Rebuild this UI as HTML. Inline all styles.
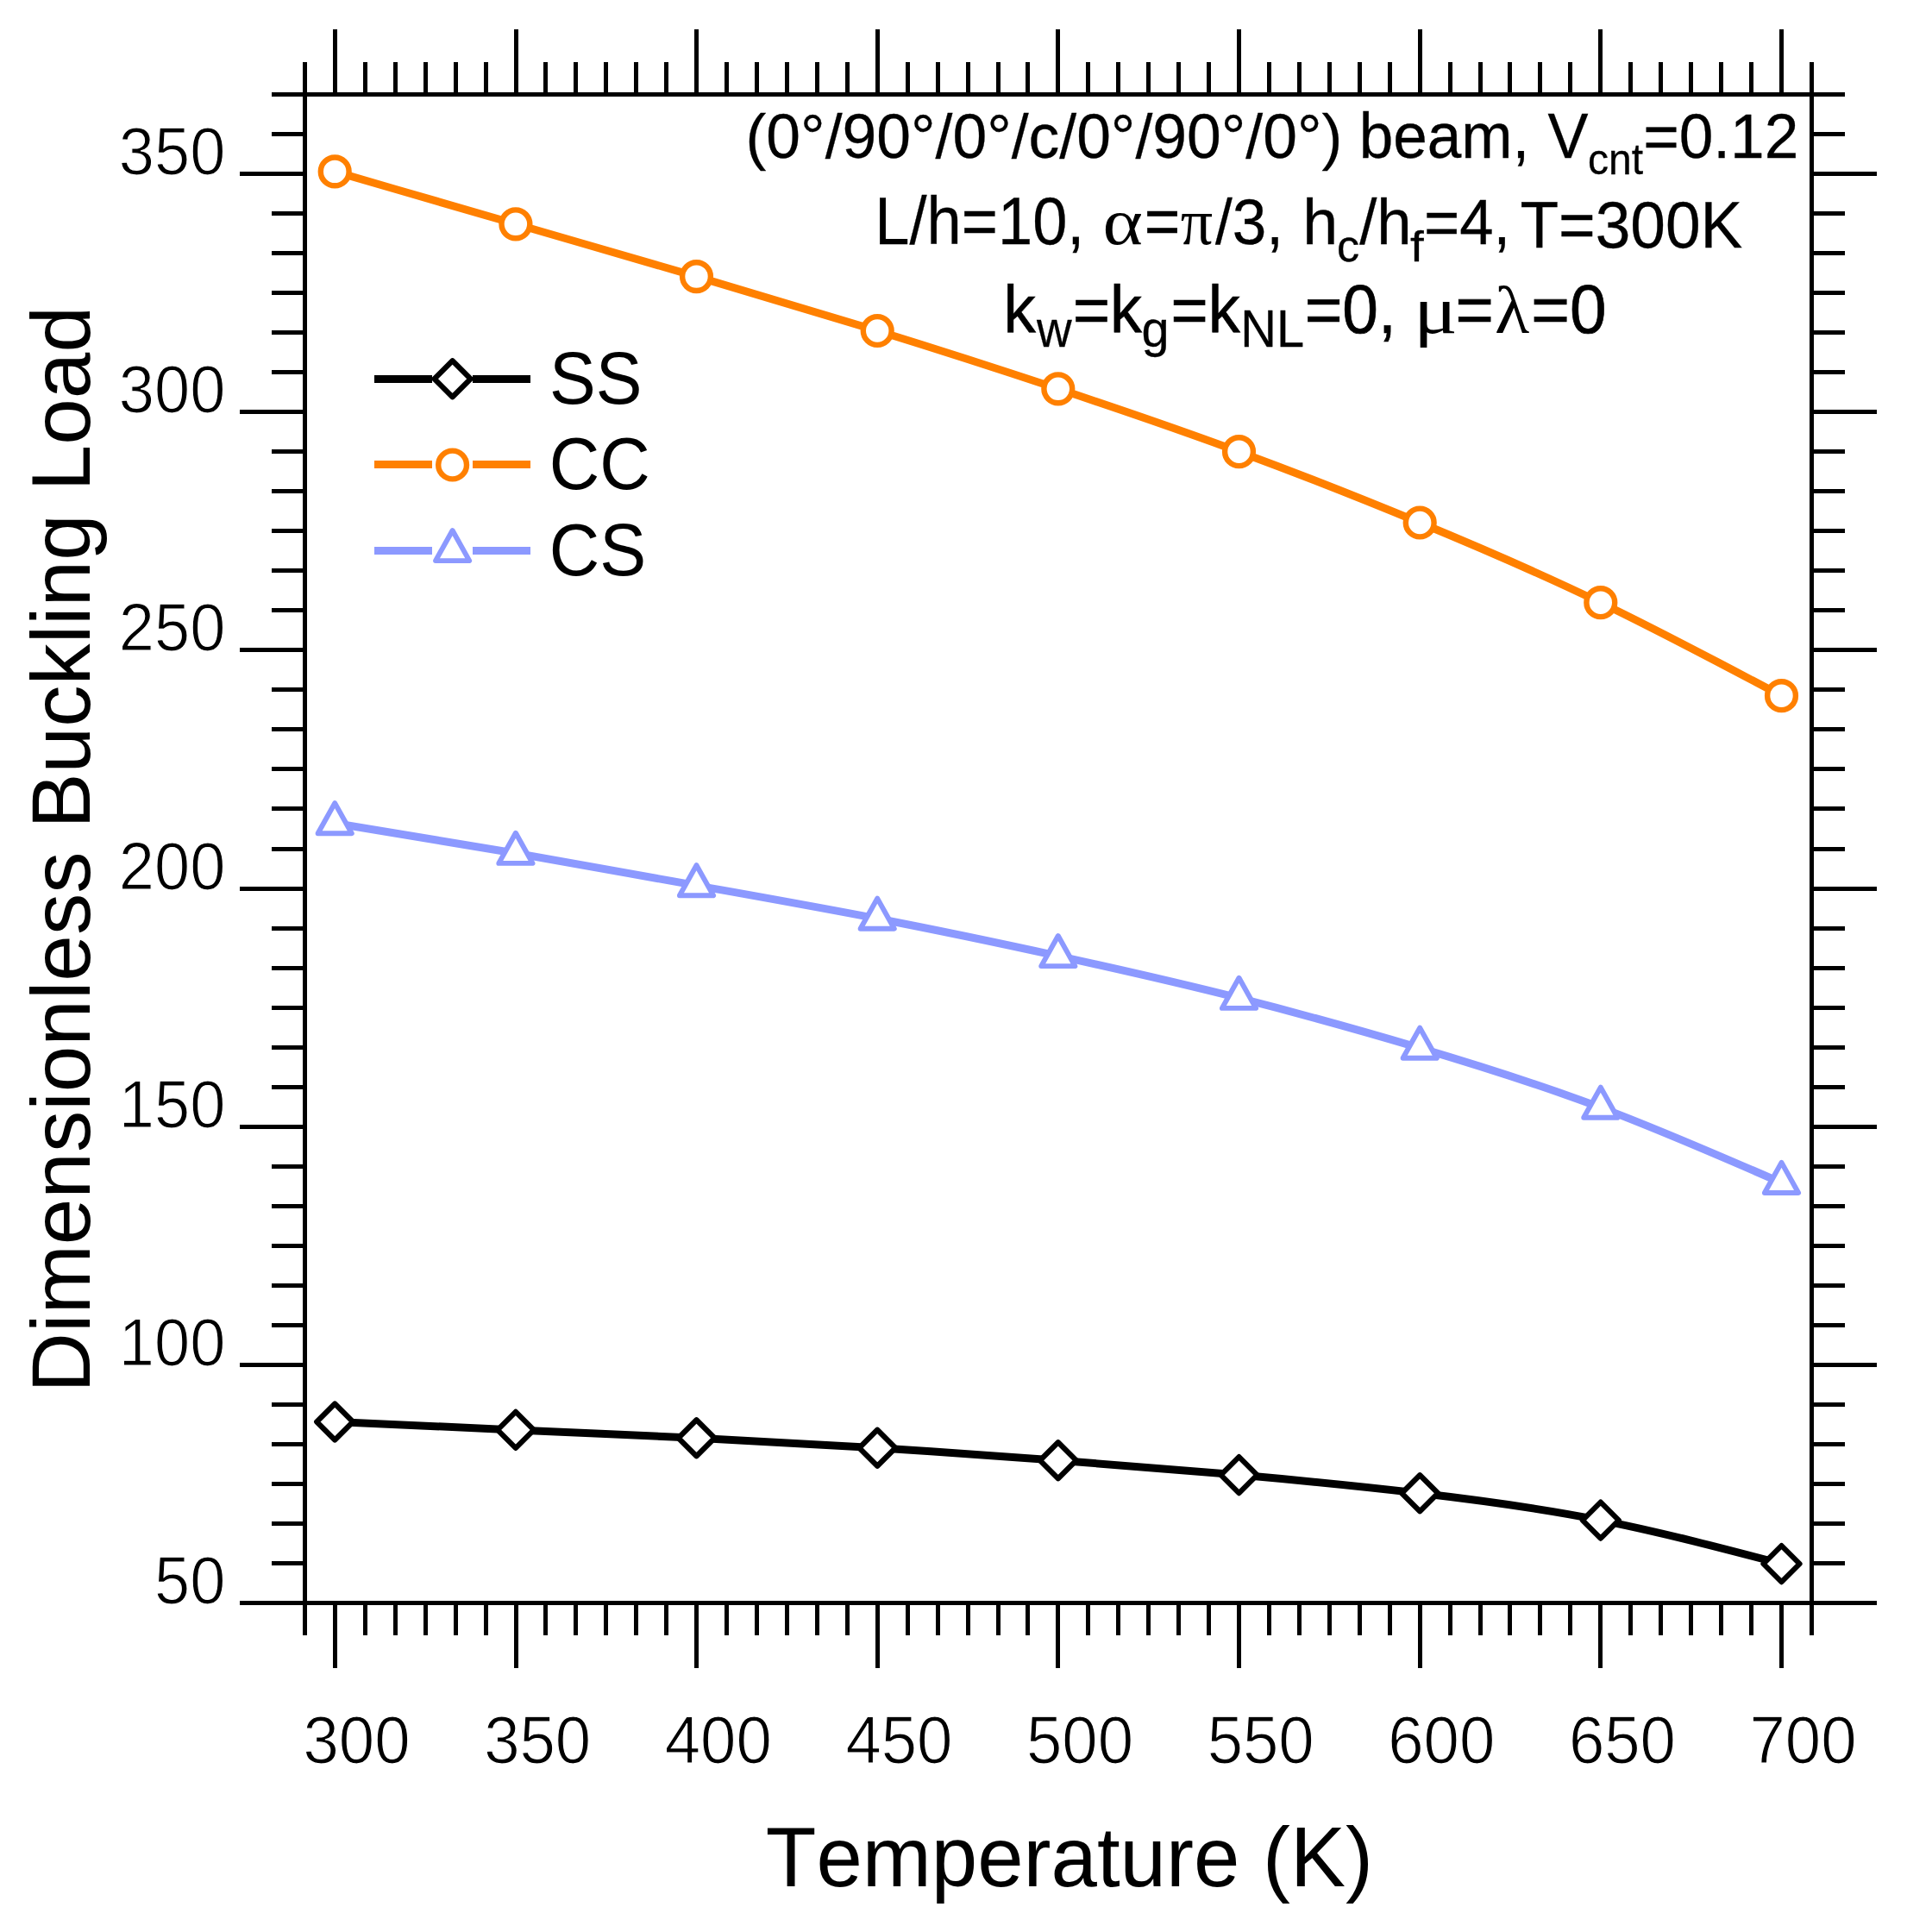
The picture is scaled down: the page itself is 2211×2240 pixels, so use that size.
<!DOCTYPE html>
<html lang="en"><head><meta charset="utf-8"><title>Dimensionless Buckling Load vs Temperature</title>
<style>html,body{margin:0;padding:0;background:#fff}body{width:2211px;height:2240px;overflow:hidden}svg{display:block}text{font-family:"Liberation Sans",sans-serif;fill:#000;white-space:pre;font-kerning:none}.sym{font-family:"Liberation Serif","DejaVu Serif",serif}.tk{stroke:#fff;stroke-width:1.2px}</style></head><body>
<svg width="2211" height="2240" viewBox="0 0 2211 2240">
<rect width="2211" height="2240" fill="#fff"/>
<g shape-rendering="crispEdges">
<rect x="315" y="107" width="1824" height="5" fill="#000"/>
<rect x="278" y="1856" width="1898" height="5" fill="#000"/>
<rect x="351" y="72" width="5" height="1824" fill="#000"/>
<rect x="2098" y="72" width="5" height="1824" fill="#000"/>
<rect x="386" y="34" width="5" height="75" fill="#000"/>
<rect x="386" y="1858" width="5" height="76" fill="#000"/>
<rect x="421" y="72" width="5" height="37" fill="#000"/>
<rect x="421" y="1858" width="5" height="38" fill="#000"/>
<rect x="456" y="72" width="5" height="37" fill="#000"/>
<rect x="456" y="1858" width="5" height="38" fill="#000"/>
<rect x="491" y="72" width="5" height="37" fill="#000"/>
<rect x="491" y="1858" width="5" height="38" fill="#000"/>
<rect x="526" y="72" width="5" height="37" fill="#000"/>
<rect x="526" y="1858" width="5" height="38" fill="#000"/>
<rect x="561" y="72" width="5" height="37" fill="#000"/>
<rect x="561" y="1858" width="5" height="38" fill="#000"/>
<rect x="596" y="34" width="5" height="75" fill="#000"/>
<rect x="596" y="1858" width="5" height="76" fill="#000"/>
<rect x="630" y="72" width="5" height="37" fill="#000"/>
<rect x="630" y="1858" width="5" height="38" fill="#000"/>
<rect x="665" y="72" width="5" height="37" fill="#000"/>
<rect x="665" y="1858" width="5" height="38" fill="#000"/>
<rect x="700" y="72" width="5" height="37" fill="#000"/>
<rect x="700" y="1858" width="5" height="38" fill="#000"/>
<rect x="735" y="72" width="5" height="37" fill="#000"/>
<rect x="735" y="1858" width="5" height="38" fill="#000"/>
<rect x="770" y="72" width="5" height="37" fill="#000"/>
<rect x="770" y="1858" width="5" height="38" fill="#000"/>
<rect x="805" y="34" width="5" height="75" fill="#000"/>
<rect x="805" y="1858" width="5" height="76" fill="#000"/>
<rect x="840" y="72" width="5" height="37" fill="#000"/>
<rect x="840" y="1858" width="5" height="38" fill="#000"/>
<rect x="875" y="72" width="5" height="37" fill="#000"/>
<rect x="875" y="1858" width="5" height="38" fill="#000"/>
<rect x="910" y="72" width="5" height="37" fill="#000"/>
<rect x="910" y="1858" width="5" height="38" fill="#000"/>
<rect x="945" y="72" width="5" height="37" fill="#000"/>
<rect x="945" y="1858" width="5" height="38" fill="#000"/>
<rect x="980" y="72" width="5" height="37" fill="#000"/>
<rect x="980" y="1858" width="5" height="38" fill="#000"/>
<rect x="1015" y="34" width="5" height="75" fill="#000"/>
<rect x="1015" y="1858" width="5" height="76" fill="#000"/>
<rect x="1050" y="72" width="5" height="37" fill="#000"/>
<rect x="1050" y="1858" width="5" height="38" fill="#000"/>
<rect x="1085" y="72" width="5" height="37" fill="#000"/>
<rect x="1085" y="1858" width="5" height="38" fill="#000"/>
<rect x="1120" y="72" width="5" height="37" fill="#000"/>
<rect x="1120" y="1858" width="5" height="38" fill="#000"/>
<rect x="1155" y="72" width="5" height="37" fill="#000"/>
<rect x="1155" y="1858" width="5" height="38" fill="#000"/>
<rect x="1189" y="72" width="5" height="37" fill="#000"/>
<rect x="1189" y="1858" width="5" height="38" fill="#000"/>
<rect x="1224" y="34" width="5" height="75" fill="#000"/>
<rect x="1224" y="1858" width="5" height="76" fill="#000"/>
<rect x="1259" y="72" width="5" height="37" fill="#000"/>
<rect x="1259" y="1858" width="5" height="38" fill="#000"/>
<rect x="1294" y="72" width="5" height="37" fill="#000"/>
<rect x="1294" y="1858" width="5" height="38" fill="#000"/>
<rect x="1329" y="72" width="5" height="37" fill="#000"/>
<rect x="1329" y="1858" width="5" height="38" fill="#000"/>
<rect x="1364" y="72" width="5" height="37" fill="#000"/>
<rect x="1364" y="1858" width="5" height="38" fill="#000"/>
<rect x="1399" y="72" width="5" height="37" fill="#000"/>
<rect x="1399" y="1858" width="5" height="38" fill="#000"/>
<rect x="1434" y="34" width="5" height="75" fill="#000"/>
<rect x="1434" y="1858" width="5" height="76" fill="#000"/>
<rect x="1469" y="72" width="5" height="37" fill="#000"/>
<rect x="1469" y="1858" width="5" height="38" fill="#000"/>
<rect x="1504" y="72" width="5" height="37" fill="#000"/>
<rect x="1504" y="1858" width="5" height="38" fill="#000"/>
<rect x="1539" y="72" width="5" height="37" fill="#000"/>
<rect x="1539" y="1858" width="5" height="38" fill="#000"/>
<rect x="1574" y="72" width="5" height="37" fill="#000"/>
<rect x="1574" y="1858" width="5" height="38" fill="#000"/>
<rect x="1609" y="72" width="5" height="37" fill="#000"/>
<rect x="1609" y="1858" width="5" height="38" fill="#000"/>
<rect x="1644" y="34" width="5" height="75" fill="#000"/>
<rect x="1644" y="1858" width="5" height="76" fill="#000"/>
<rect x="1679" y="72" width="5" height="37" fill="#000"/>
<rect x="1679" y="1858" width="5" height="38" fill="#000"/>
<rect x="1714" y="72" width="5" height="37" fill="#000"/>
<rect x="1714" y="1858" width="5" height="38" fill="#000"/>
<rect x="1748" y="72" width="5" height="37" fill="#000"/>
<rect x="1748" y="1858" width="5" height="38" fill="#000"/>
<rect x="1783" y="72" width="5" height="37" fill="#000"/>
<rect x="1783" y="1858" width="5" height="38" fill="#000"/>
<rect x="1818" y="72" width="5" height="37" fill="#000"/>
<rect x="1818" y="1858" width="5" height="38" fill="#000"/>
<rect x="1853" y="34" width="5" height="75" fill="#000"/>
<rect x="1853" y="1858" width="5" height="76" fill="#000"/>
<rect x="1888" y="72" width="5" height="37" fill="#000"/>
<rect x="1888" y="1858" width="5" height="38" fill="#000"/>
<rect x="1923" y="72" width="5" height="37" fill="#000"/>
<rect x="1923" y="1858" width="5" height="38" fill="#000"/>
<rect x="1958" y="72" width="5" height="37" fill="#000"/>
<rect x="1958" y="1858" width="5" height="38" fill="#000"/>
<rect x="1993" y="72" width="5" height="37" fill="#000"/>
<rect x="1993" y="1858" width="5" height="38" fill="#000"/>
<rect x="2028" y="72" width="5" height="37" fill="#000"/>
<rect x="2028" y="1858" width="5" height="38" fill="#000"/>
<rect x="2063" y="34" width="5" height="75" fill="#000"/>
<rect x="2063" y="1858" width="5" height="76" fill="#000"/>
<rect x="315" y="1810" width="38" height="5" fill="#000"/>
<rect x="2101" y="1810" width="38" height="5" fill="#000"/>
<rect x="315" y="1764" width="38" height="5" fill="#000"/>
<rect x="2101" y="1764" width="38" height="5" fill="#000"/>
<rect x="315" y="1718" width="38" height="5" fill="#000"/>
<rect x="2101" y="1718" width="38" height="5" fill="#000"/>
<rect x="315" y="1672" width="38" height="5" fill="#000"/>
<rect x="2101" y="1672" width="38" height="5" fill="#000"/>
<rect x="315" y="1626" width="38" height="5" fill="#000"/>
<rect x="2101" y="1626" width="38" height="5" fill="#000"/>
<rect x="278" y="1580" width="75" height="5" fill="#000"/>
<rect x="2101" y="1580" width="75" height="5" fill="#000"/>
<rect x="315" y="1534" width="38" height="5" fill="#000"/>
<rect x="2101" y="1534" width="38" height="5" fill="#000"/>
<rect x="315" y="1488" width="38" height="5" fill="#000"/>
<rect x="2101" y="1488" width="38" height="5" fill="#000"/>
<rect x="315" y="1442" width="38" height="5" fill="#000"/>
<rect x="2101" y="1442" width="38" height="5" fill="#000"/>
<rect x="315" y="1396" width="38" height="5" fill="#000"/>
<rect x="2101" y="1396" width="38" height="5" fill="#000"/>
<rect x="315" y="1350" width="38" height="5" fill="#000"/>
<rect x="2101" y="1350" width="38" height="5" fill="#000"/>
<rect x="278" y="1304" width="75" height="5" fill="#000"/>
<rect x="2101" y="1304" width="75" height="5" fill="#000"/>
<rect x="315" y="1258" width="38" height="5" fill="#000"/>
<rect x="2101" y="1258" width="38" height="5" fill="#000"/>
<rect x="315" y="1212" width="38" height="5" fill="#000"/>
<rect x="2101" y="1212" width="38" height="5" fill="#000"/>
<rect x="315" y="1166" width="38" height="5" fill="#000"/>
<rect x="2101" y="1166" width="38" height="5" fill="#000"/>
<rect x="315" y="1120" width="38" height="5" fill="#000"/>
<rect x="2101" y="1120" width="38" height="5" fill="#000"/>
<rect x="315" y="1074" width="38" height="5" fill="#000"/>
<rect x="2101" y="1074" width="38" height="5" fill="#000"/>
<rect x="278" y="1028" width="75" height="5" fill="#000"/>
<rect x="2101" y="1028" width="75" height="5" fill="#000"/>
<rect x="315" y="982" width="38" height="5" fill="#000"/>
<rect x="2101" y="982" width="38" height="5" fill="#000"/>
<rect x="315" y="935" width="38" height="5" fill="#000"/>
<rect x="2101" y="935" width="38" height="5" fill="#000"/>
<rect x="315" y="889" width="38" height="5" fill="#000"/>
<rect x="2101" y="889" width="38" height="5" fill="#000"/>
<rect x="315" y="843" width="38" height="5" fill="#000"/>
<rect x="2101" y="843" width="38" height="5" fill="#000"/>
<rect x="315" y="797" width="38" height="5" fill="#000"/>
<rect x="2101" y="797" width="38" height="5" fill="#000"/>
<rect x="278" y="751" width="75" height="5" fill="#000"/>
<rect x="2101" y="751" width="75" height="5" fill="#000"/>
<rect x="315" y="705" width="38" height="5" fill="#000"/>
<rect x="2101" y="705" width="38" height="5" fill="#000"/>
<rect x="315" y="659" width="38" height="5" fill="#000"/>
<rect x="2101" y="659" width="38" height="5" fill="#000"/>
<rect x="315" y="613" width="38" height="5" fill="#000"/>
<rect x="2101" y="613" width="38" height="5" fill="#000"/>
<rect x="315" y="567" width="38" height="5" fill="#000"/>
<rect x="2101" y="567" width="38" height="5" fill="#000"/>
<rect x="315" y="521" width="38" height="5" fill="#000"/>
<rect x="2101" y="521" width="38" height="5" fill="#000"/>
<rect x="278" y="475" width="75" height="5" fill="#000"/>
<rect x="2101" y="475" width="75" height="5" fill="#000"/>
<rect x="315" y="429" width="38" height="5" fill="#000"/>
<rect x="2101" y="429" width="38" height="5" fill="#000"/>
<rect x="315" y="383" width="38" height="5" fill="#000"/>
<rect x="2101" y="383" width="38" height="5" fill="#000"/>
<rect x="315" y="337" width="38" height="5" fill="#000"/>
<rect x="2101" y="337" width="38" height="5" fill="#000"/>
<rect x="315" y="291" width="38" height="5" fill="#000"/>
<rect x="2101" y="291" width="38" height="5" fill="#000"/>
<rect x="315" y="245" width="38" height="5" fill="#000"/>
<rect x="2101" y="245" width="38" height="5" fill="#000"/>
<rect x="278" y="199" width="75" height="5" fill="#000"/>
<rect x="2101" y="199" width="75" height="5" fill="#000"/>
<rect x="315" y="153" width="38" height="5" fill="#000"/>
<rect x="2101" y="153" width="38" height="5" fill="#000"/>
</g>
<path d="M388.2 1648.5C458.1 1651.7 528.0 1654.9 597.9 1657.9C667.8 1660.9 737.6 1663.9 807.5 1667.2C877.4 1670.5 947.3 1674.3 1017.2 1678.7C1087.1 1683.1 1157.0 1688.0 1226.8 1693.2C1296.7 1698.4 1366.6 1703.9 1436.5 1710.1C1506.4 1716.3 1576.3 1723.2 1646.2 1731.3C1716.1 1739.4 1786.0 1748.8 1855.8 1762.6C1925.7 1776.4 1995.6 1794.8 2065.5 1813.1" fill="none" stroke="#000" stroke-width="9"/>
<path d="M388.2 198.9C458.1 219.2 528.0 239.6 597.9 259.8C667.8 280.0 737.6 300.1 807.5 320.6C877.4 341.1 947.3 361.9 1017.2 383.5C1087.1 405.1 1157.0 427.6 1226.8 450.8C1296.7 474.0 1366.6 497.9 1436.5 523.7C1506.4 549.5 1576.3 577.1 1646.2 606.0C1716.1 634.9 1786.0 665.0 1855.8 698.7C1925.7 732.4 1995.6 769.5 2065.5 806.7" fill="none" stroke="#FF8000" stroke-width="9"/>
<path d="M388.2 954.5C458.1 965.8 528.0 977.1 597.9 989.2C667.8 1001.3 737.6 1014.0 807.5 1026.6C877.4 1039.2 947.3 1051.5 1017.2 1065.0C1087.1 1078.5 1157.0 1093.1 1226.8 1108.4C1296.7 1123.7 1366.6 1139.5 1436.5 1157.2C1506.4 1174.9 1576.3 1194.4 1646.2 1215.1C1716.1 1235.8 1786.0 1257.9 1855.8 1284.1C1925.7 1310.3 1995.6 1340.8 2065.5 1371.3" fill="none" stroke="#8C99FF" stroke-width="9"/>
<path d="M367.2 1648.5L388.2 1627.5L409.2 1648.5L388.2 1669.5Z" fill="#fff" stroke="#000" stroke-width="6.2" stroke-linejoin="round"/>
<path d="M576.9 1657.9L597.9 1636.9L618.9 1657.9L597.9 1678.9Z" fill="#fff" stroke="#000" stroke-width="6.2" stroke-linejoin="round"/>
<path d="M786.5 1667.2L807.5 1646.2L828.5 1667.2L807.5 1688.2Z" fill="#fff" stroke="#000" stroke-width="6.2" stroke-linejoin="round"/>
<path d="M996.2 1678.7L1017.2 1657.7L1038.2 1678.7L1017.2 1699.7Z" fill="#fff" stroke="#000" stroke-width="6.2" stroke-linejoin="round"/>
<path d="M1205.8 1693.2L1226.8 1672.2L1247.8 1693.2L1226.8 1714.2Z" fill="#fff" stroke="#000" stroke-width="6.2" stroke-linejoin="round"/>
<path d="M1415.5 1710.1L1436.5 1689.1L1457.5 1710.1L1436.5 1731.1Z" fill="#fff" stroke="#000" stroke-width="6.2" stroke-linejoin="round"/>
<path d="M1625.2 1731.3L1646.2 1710.3L1667.2 1731.3L1646.2 1752.3Z" fill="#fff" stroke="#000" stroke-width="6.2" stroke-linejoin="round"/>
<path d="M1834.8 1762.6L1855.8 1741.6L1876.8 1762.6L1855.8 1783.6Z" fill="#fff" stroke="#000" stroke-width="6.2" stroke-linejoin="round"/>
<path d="M2044.5 1813.1L2065.5 1792.1L2086.5 1813.1L2065.5 1834.1Z" fill="#fff" stroke="#000" stroke-width="6.2" stroke-linejoin="round"/>
<circle cx="388.2" cy="198.9" r="16.4" fill="#fff" stroke="#FF8000" stroke-width="6.4"/>
<circle cx="597.9" cy="259.8" r="16.4" fill="#fff" stroke="#FF8000" stroke-width="6.4"/>
<circle cx="807.5" cy="320.6" r="16.4" fill="#fff" stroke="#FF8000" stroke-width="6.4"/>
<circle cx="1017.2" cy="383.5" r="16.4" fill="#fff" stroke="#FF8000" stroke-width="6.4"/>
<circle cx="1226.8" cy="450.8" r="16.4" fill="#fff" stroke="#FF8000" stroke-width="6.4"/>
<circle cx="1436.5" cy="523.7" r="16.4" fill="#fff" stroke="#FF8000" stroke-width="6.4"/>
<circle cx="1646.2" cy="606.0" r="16.4" fill="#fff" stroke="#FF8000" stroke-width="6.4"/>
<circle cx="1855.8" cy="698.7" r="16.4" fill="#fff" stroke="#FF8000" stroke-width="6.4"/>
<circle cx="2065.5" cy="806.7" r="16.4" fill="#fff" stroke="#FF8000" stroke-width="6.4"/>
<path d="M388.2 931.1L407.8 966.2L368.6 966.2Z" fill="#fff" stroke="#8C99FF" stroke-width="5.9" stroke-linejoin="round"/>
<path d="M597.9 965.8L617.5 1000.9L578.3 1000.9Z" fill="#fff" stroke="#8C99FF" stroke-width="5.9" stroke-linejoin="round"/>
<path d="M807.5 1003.2L827.1 1038.3L787.9 1038.3Z" fill="#fff" stroke="#8C99FF" stroke-width="5.9" stroke-linejoin="round"/>
<path d="M1017.2 1041.6L1036.8 1076.7L997.6 1076.7Z" fill="#fff" stroke="#8C99FF" stroke-width="5.9" stroke-linejoin="round"/>
<path d="M1226.8 1085.0L1246.4 1120.1L1207.2 1120.1Z" fill="#fff" stroke="#8C99FF" stroke-width="5.9" stroke-linejoin="round"/>
<path d="M1436.5 1133.8L1456.1 1168.9L1416.9 1168.9Z" fill="#fff" stroke="#8C99FF" stroke-width="5.9" stroke-linejoin="round"/>
<path d="M1646.2 1191.7L1665.8 1226.8L1626.6 1226.8Z" fill="#fff" stroke="#8C99FF" stroke-width="5.9" stroke-linejoin="round"/>
<path d="M1855.8 1260.7L1875.4 1295.8L1836.2 1295.8Z" fill="#fff" stroke="#8C99FF" stroke-width="5.9" stroke-linejoin="round"/>
<path d="M2065.5 1347.9L2085.1 1383.0L2045.9 1383.0Z" fill="#fff" stroke="#8C99FF" stroke-width="5.9" stroke-linejoin="round"/>
<g shape-rendering="crispEdges">
<rect x="434" y="435" width="67" height="9" fill="#000"/>
<rect x="548" y="435" width="67" height="9" fill="#000"/>
</g>
<path d="M503.6 439.3L524.6 418.3L545.6 439.3L524.6 460.3Z" fill="#fff" stroke="#000" stroke-width="6.2" stroke-linejoin="round"/>
<text transform="translate(637.03 468.00) scale(1.0064 1.0650)" font-size="80">SS</text>
<g shape-rendering="crispEdges">
<rect x="434" y="534" width="67" height="9" fill="#FF8000"/>
<rect x="548" y="534" width="67" height="9" fill="#FF8000"/>
</g>
<circle cx="524.6" cy="539.0" r="16.4" fill="#fff" stroke="#FF8000" stroke-width="6.4"/>
<text transform="translate(636.75 566.80) scale(1.0127 1.0650)" font-size="80">CC</text>
<g shape-rendering="crispEdges">
<rect x="434" y="634" width="67" height="9" fill="#8C99FF"/>
<rect x="548" y="634" width="67" height="9" fill="#8C99FF"/>
</g>
<path d="M524.6 615.0L544.2 650.1L505.0 650.1Z" fill="#fff" stroke="#8C99FF" stroke-width="5.9" stroke-linejoin="round"/>
<text transform="translate(636.75 666.60) scale(1.0114 1.0650)" font-size="80">CS</text>
<text class="tk" transform="translate(351.52 2043.60) scale(0.9594 1)" font-size="77.5">300</text>
<text class="tk" transform="translate(561.15 2043.60) scale(0.9594 1)" font-size="77.5">350</text>
<text class="tk" transform="translate(770.77 2043.60) scale(0.9594 1)" font-size="77.5">400</text>
<text class="tk" transform="translate(980.40 2043.60) scale(0.9594 1)" font-size="77.5">450</text>
<text class="tk" transform="translate(1190.02 2043.60) scale(0.9594 1)" font-size="77.5">500</text>
<text class="tk" transform="translate(1399.65 2043.60) scale(0.9594 1)" font-size="77.5">550</text>
<text class="tk" transform="translate(1609.27 2043.60) scale(0.9594 1)" font-size="77.5">600</text>
<text class="tk" transform="translate(1818.90 2043.60) scale(0.9594 1)" font-size="77.5">650</text>
<text class="tk" transform="translate(2028.52 2043.60) scale(0.9594 1)" font-size="77.5">700</text>
<text class="tk" transform="translate(179.01 1859.10) scale(0.9553 1)" font-size="77.5">50</text>
<text class="tk" transform="translate(137.83 1582.94) scale(0.9553 1)" font-size="77.5">100</text>
<text class="tk" transform="translate(137.83 1306.78) scale(0.9553 1)" font-size="77.5">150</text>
<text class="tk" transform="translate(137.83 1030.63) scale(0.9553 1)" font-size="77.5">200</text>
<text class="tk" transform="translate(137.83 754.47) scale(0.9553 1)" font-size="77.5">250</text>
<text class="tk" transform="translate(137.83 478.31) scale(0.9553 1)" font-size="77.5">300</text>
<text class="tk" transform="translate(137.83 202.15) scale(0.9553 1)" font-size="77.5">350</text>
<text transform="translate(887.82 2187.00) scale(1.0001 1.0200)" font-size="96">Temperature (K)</text>
<text transform="translate(104 1614.69) rotate(-90) scale(1.0047 1)" font-size="96">Dimensionless Buckling Load</text>
<text transform="translate(864.55 183.00) scale(0.9994 1.0200)" font-size="71.5" stroke="#000" stroke-width="0.3">(0°/90°/0°/c/0°/90°/0°)</text>
<text transform="translate(1575.67 183.00) scale(0.9949 1.0350)" font-size="71.5" stroke="#000" stroke-width="0.3">beam,</text>
<text transform="translate(1794.50 183.00) scale(0.9851 1.0350)" font-size="71.5" stroke="#000" stroke-width="0.3">V</text>
<text transform="translate(1841.04 202.00) scale(1.0071 1.0500)" font-size="47.7" stroke="#000" stroke-width="0.3">cnt</text>
<text transform="translate(1905.16 183.00) scale(0.9960 1.0200)" font-size="71.5" stroke="#000" stroke-width="0.3">=0.12</text>
<text transform="translate(1014.36 283.00) scale(0.9764 1.0400)" font-size="74" stroke="#000" stroke-width="0.3">L/h=10,</text>
<text class="sym" transform="translate(1278.41 283.00) scale(1.1971 1.0300)" font-size="74" stroke="#000" stroke-width="0">α</text>
<text transform="translate(1326.78 283.00) scale(0.9639 1.0400)" font-size="74" stroke="#000" stroke-width="0.3">=</text>
<text class="sym" transform="translate(1368.80 283.00) scale(1.0014 1.0300)" font-size="74" stroke="#000" stroke-width="0">π</text>
<text transform="translate(1408.95 283.00) scale(0.9615 1.0050)" font-size="74" stroke="#000" stroke-width="0.3">/3,</text>
<text transform="translate(1510.37 283.00) scale(0.9968 1.0000)" font-size="74" stroke="#000" stroke-width="0.3">h</text>
<text transform="translate(1550.05 302.60) scale(1.0483 1.0300)" font-size="50" stroke="#000" stroke-width="0.3">c</text>
<text transform="translate(1576.15 283.00) scale(0.9814 1.0000)" font-size="74" stroke="#000" stroke-width="0.3">/h</text>
<text transform="translate(1635.10 303.00) scale(1.1321 1.0000)" font-size="50" stroke="#000" stroke-width="0.3">f</text>
<text transform="translate(1650.91 283.00) scale(0.9550 1.0050)" font-size="74" stroke="#000" stroke-width="0.3">=4,</text>
<text transform="translate(1762.42 287.00) scale(0.9871 1.0250)" font-size="74" stroke="#000" stroke-width="0.3">T=300K</text>
<text transform="translate(1163.18 386.00) scale(0.9659 0.9950)" font-size="78" stroke="#000" stroke-width="0.5">k</text>
<text transform="translate(1202.05 402.00) scale(0.9612 1.0000)" font-size="58.5" stroke="#000" stroke-width="0.3">w</text>
<text transform="translate(1243.91 386.00) scale(0.9443 0.9950)" font-size="78" stroke="#000" stroke-width="0.7">=k</text>
<text transform="translate(1323.58 402.00) scale(0.9867 1.0000)" font-size="58.5" stroke="#000" stroke-width="0.3">g</text>
<text transform="translate(1357.60 386.00) scale(0.9474 0.9950)" font-size="78" stroke="#000" stroke-width="0.7">=k</text>
<text transform="translate(1438.37 402.10) scale(0.9854 1.0450)" font-size="58.5" stroke="#000" stroke-width="0.3">NL</text>
<text transform="translate(1512.65 386.00) scale(0.9597 1.0100)" font-size="78" stroke="#000" stroke-width="0.7">=0,</text>
<text class="sym" transform="translate(1638.88 386.00) scale(1.2185 1.0000)" font-size="78" stroke="#000" stroke-width="0">μ</text>
<text transform="translate(1687.40 386.00) scale(0.9737 1.0100)" font-size="78" stroke="#000" stroke-width="0.7">=</text>
<text class="sym" transform="translate(1733.07 386.00) scale(1.0648 1.0000)" font-size="78" stroke="#000" stroke-width="0">λ</text>
<text transform="translate(1775.27 386.00) scale(0.9811 1.0100)" font-size="78" stroke="#000" stroke-width="0.7">=0</text>
</svg></body></html>
